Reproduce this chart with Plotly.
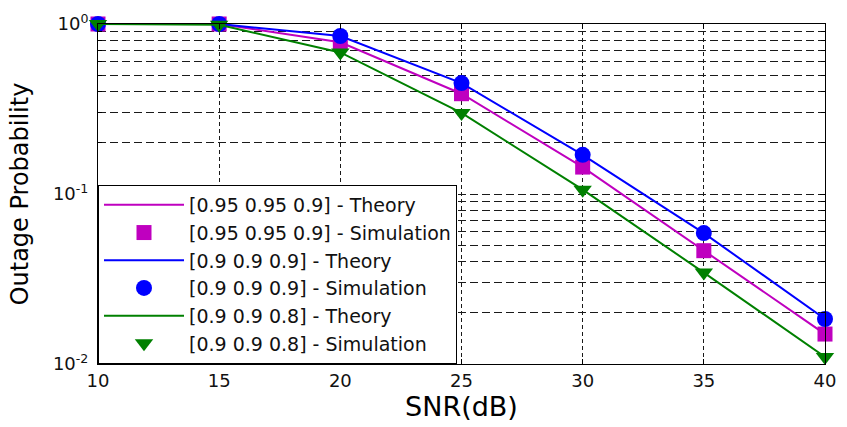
import plotly.graph_objects as go

# SNR sweep (dB)
snr = [10, 15, 20, 25, 30, 35, 40]

# Outage probability, analytical curves
theory_095_095_09 = [1.0, 1.0, 0.78, 0.389, 0.144, 0.0464, 0.0150]
theory_09_09_09 = [1.0, 1.0, 0.85, 0.449, 0.170, 0.0589, 0.0184]
theory_09_09_08 = [1.0, 0.99, 0.68, 0.300, 0.106, 0.0345, 0.0110]

# Outage probability, Monte-Carlo simulation
sim_095_095_09 = [1.0, 1.0, 0.78, 0.389, 0.144, 0.0464, 0.0150]
sim_09_09_09 = [1.0, 1.0, 0.85, 0.449, 0.170, 0.0589, 0.0184]
sim_09_09_08 = [1.0, 0.99, 0.68, 0.300, 0.106, 0.0345, 0.0110]

labels = ["[0.95 0.95 0.9]", "[0.9 0.9 0.9]", "[0.9 0.9 0.8]"]
colors = ["#bf00bf", "#0000ff", "#008000"]
symbols = ["square", "circle", "triangle-down"]
sizes = [15, 16, 16]

y_tickvals = [0.01, 0.1, 1]
y_ticktext = ["10<sup>-2</sup>", "10<sup>-1</sup>", "10<sup>0</sup>"]
y_minor_vals = [k * 10 ** e for e in (-2, -1) for k in range(2, 10)]
x_tickvals = [10, 15, 20, 25, 30, 35, 40]

FONT = "DejaVu Sans"

fig = go.Figure()
series = [
    (theory_095_095_09, sim_095_095_09),
    (theory_09_09_09, sim_09_09_09),
    (theory_09_09_08, sim_09_09_08),
]
for (th, sm), lab, col, sym, sz in zip(series, labels, colors, symbols, sizes):
    fig.add_trace(go.Scatter(
        x=snr, y=th, mode="lines", name=f"{lab} - Theory",
        line=dict(color=col, width=2), cliponaxis=False,
    ))
    fig.add_trace(go.Scatter(
        x=snr, y=sm, mode="markers", name=f"{lab} - Simulation",
        marker=dict(symbol=sym, size=sz, color=col, line=dict(width=0)),
        cliponaxis=False,
    ))

grid_col = "#1a1a1a"
fig.update_layout(
    width=847, height=427,
    margin=dict(l=98, r=11, t=23, b=61),
    paper_bgcolor="white", plot_bgcolor="white",
    font=dict(family=FONT, color="black", size=18),
    showlegend=True,
    legend=dict(
        x=0, y=0, xanchor="left", yanchor="bottom",
        bgcolor="white", bordercolor="black", borderwidth=1,
        font=dict(family=FONT, size=19, color="#111"),
        itemwidth=80, tracegroupgap=0,
    ),
    xaxis=dict(
        range=[10, 40], tickmode="array", tickvals=x_tickvals,
        ticks="inside", ticklen=5, tickcolor="black",
        showline=True, linecolor="black", linewidth=1, mirror="ticks",
        showgrid=True, gridcolor=grid_col, gridwidth=1, griddash="4px,3px",
        zeroline=False,
        tickfont=dict(family=FONT, size=18, color="#111"),
        title=dict(text="SNR(dB)", font=dict(family=FONT, size=27, color="black"), standoff=7),
    ),
    yaxis=dict(
        type="log", range=[-2, 0], tickmode="array",
        tickvals=y_tickvals, ticktext=y_ticktext,
        ticks="inside", ticklen=5, tickcolor="black",
        showline=True, linecolor="black", linewidth=1, mirror="ticks",
        showgrid=True, gridcolor=grid_col, gridwidth=1, griddash="8px,4px",
        zeroline=False, ticklabelstandoff=5,
        minor=dict(
            tickmode="array", tickvals=y_minor_vals,
            ticks="inside", ticklen=4, tickcolor="black",
            showgrid=True, gridcolor=grid_col, gridwidth=1, griddash="8px,4px",
        ),
        tickfont=dict(family=FONT, size=18, color="#111"),
        title=dict(text="Outage Probability", font=dict(family=FONT, size=24, color="black"), standoff=17),
    ),
)

fig.write_html("out.html")
